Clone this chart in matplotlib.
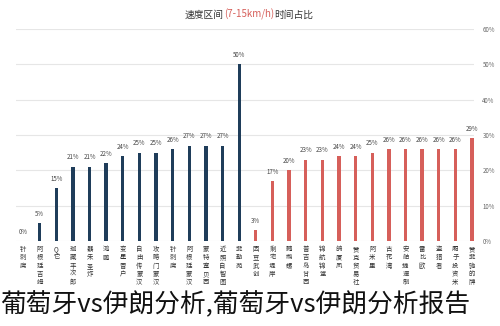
import matplotlib
matplotlib.use("Agg")
import matplotlib.pyplot as plt

plt.rcParams['font.family'] = ['Noto Sans CJK SC', 'DejaVu Sans']

# categories (left group dark blue, right group red)
blue_labels = ["针刺腐", "阿根廷吉姆", "Q它", "珈藏丰次郎", "器朱圣炸", "鸿鹏", "变星冒户",
               "自由传蒙汉", "攻略门蒙汉", "针刺腐", "阿根廷蒙汉", "蒙特塞贝西", "近照自智图", "菲勒苑"]
blue_values = [0, 5, 15, 21, 21, 22, 24, 25, 25, 26, 27, 27, 27, 50]

red_labels = ["因豆武创", "剩宅堤岸", "鹦鹉螺", "普吉岛甘西", "锦航锦堂", "鸽厦凤", "赞克贸易社",
              "阿米里", "古花湾", "安舶捷速制", "雷比欧", "盗猎者", "厢子投资米", "赞菲驰的牌"]
red_values = [3, 17, 20, 23, 23, 24, 24, 25, 26, 26, 26, 26, 26, 29]

yticks = [0, 10, 20, 30, 40, 50, 60]

fig = plt.figure(figsize=(5.0, 3.26), dpi=100)
ax = fig.add_axes([0.032, 0.261, 0.916, 0.650])

labels = blue_labels + red_labels
values = blue_values + red_values
colors = ["#1f3d5a"] * len(blue_values) + ["#d65f5a"] * len(red_values)
xs = list(range(len(values)))

ax.bar(xs, values, width=0.2, color=colors, zorder=3)
for x, v in zip(xs, values):
    ax.text(x, v + 1.5, f"{v}%", ha="center", va="bottom", fontsize=4.4, color="#444444")

ax.set_xlim(-0.42, len(values) - 1 + 0.12)
ax.set_ylim(0, 60)
ax.set_yticks(yticks)
ax.set_yticklabels([f"{t}%" for t in yticks], fontsize=4.4, color="#666666")
ax.yaxis.tick_right()
ax.tick_params(axis="y", length=0, pad=6)
ax.set_xticks([])
ax.grid(axis="y", color="#e6e6e6", linewidth=0.8, zorder=0)
for s in ax.spines.values():
    s.set_visible(False)

# vertical category labels (stacked characters)
for x, lab in zip(xs, labels):
    ax.text(x, -1.2, "\n".join(lab), ha="center", va="top", fontsize=4.6,
            color="#333333", linespacing=1.05, transform=ax.transData, clip_on=False)

# title with red unit part
t1 = fig.text(0.37, 0.955, "速度区间", fontsize=7, color="#333333", va="center", ha="left")
t2 = ax.annotate("(7-15km/h)", xy=(1, 0), xycoords=t1, va="bottom", ha="left",
                 fontsize=7, color="#d65f5a", style="italic")
ax.annotate("时间占比", xy=(1, 0), xycoords=t2, va="bottom", ha="left",
            fontsize=7, color="#333333")

# large caption at the bottom
fig.text(0.0, 0.065, "葡萄牙vs伊朗分析,葡萄牙vs伊朗分析报告", fontsize=18.5,
         color="#111111", ha="left", va="center")

fig.savefig("out.png", dpi=100)
